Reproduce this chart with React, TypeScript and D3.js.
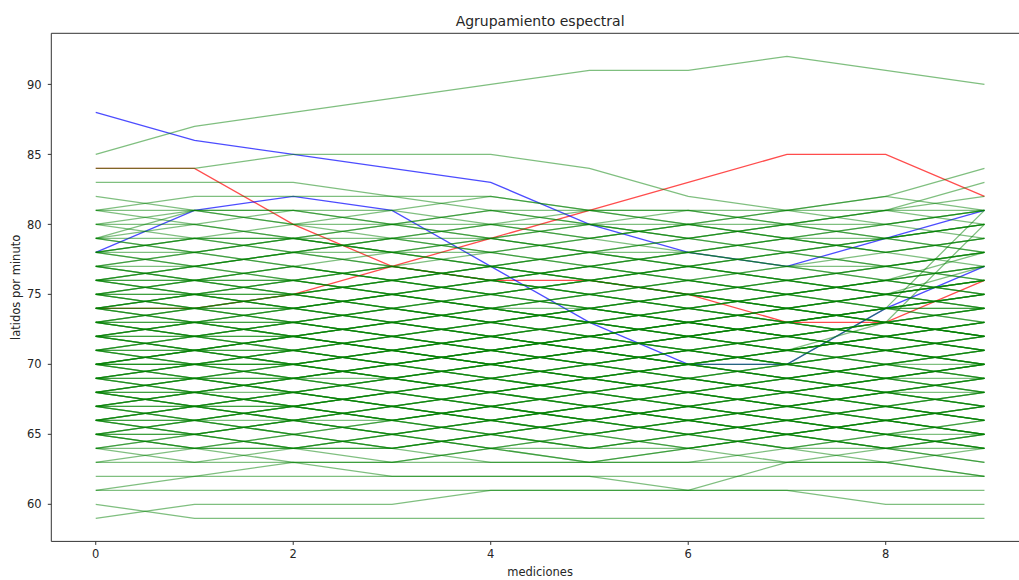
import React from "react";
import * as d3 from "d3";

// measurement index on x
const mediciones = [0, 1, 2, 3, 4, 5, 6, 7, 8, 9];

// cluster 0 (green), beats per minute per measurement
const grupoVerde = [
  [85, 87, 88, 89, 90, 91, 91, 92, 91, 90],
  [84, 84, 85, 85, 85, 84, 82, 81, 82, 84],
  [83, 83, 83, 82, 82, 81, 81, 81, 81, 83],
  [82, 81, 81, 80, 80, 80, 79, 80, 81, 82],
  [81, 82, 82, 82, 81, 81, 80, 80, 81, 81],
  [81, 80, 79, 79, 80, 81, 81, 80, 80, 79],
  [81, 81, 80, 81, 82, 81, 80, 79, 79, 80],
  [80, 79, 79, 78, 79, 80, 80, 81, 80, 81],
  [79, 81, 81, 80, 79, 78, 78, 79, 78, 79],
  [79, 79, 78, 79, 79, 78, 77, 78, 79, 78],
  [79, 78, 77, 76, 77, 78, 79, 78, 77, 78],
  [78, 79, 80, 80, 81, 80, 79, 80, 81, 80],
  [78, 77, 76, 77, 78, 77, 76, 77, 77, 76],
  [78, 78, 79, 78, 77, 76, 77, 76, 75, 77],
  [77, 78, 77, 76, 75, 76, 75, 74, 75, 76],
  [77, 76, 77, 78, 78, 79, 80, 79, 78, 79],
  [76, 77, 78, 77, 76, 77, 78, 77, 76, 75],
  [76, 75, 74, 75, 76, 75, 74, 75, 76, 77],
  [75, 76, 76, 75, 74, 73, 74, 75, 74, 75],
  [75, 74, 75, 76, 77, 76, 75, 76, 77, 78],
  [75, 75, 76, 77, 76, 75, 76, 75, 74, 73],
  [74, 75, 76, 75, 74, 74, 73, 74, 75, 74],
  [74, 73, 72, 73, 74, 75, 76, 75, 74, 74],
  [74, 74, 73, 74, 75, 76, 75, 74, 73, 72],
  [73, 74, 73, 72, 73, 74, 75, 76, 75, 76],
  [73, 72, 73, 74, 73, 72, 73, 72, 73, 74],
  [73, 73, 74, 73, 72, 71, 72, 73, 74, 73],
  [72, 73, 74, 75, 74, 73, 72, 73, 72, 71],
  [72, 71, 70, 71, 72, 73, 72, 71, 72, 73],
  [72, 72, 71, 72, 73, 72, 71, 70, 71, 72],
  [71, 72, 71, 70, 71, 72, 73, 72, 71, 70],
  [71, 70, 71, 72, 71, 70, 69, 70, 71, 72],
  [71, 71, 72, 71, 70, 71, 72, 73, 72, 71],
  [70, 71, 70, 69, 70, 69, 70, 71, 70, 69],
  [70, 69, 68, 69, 70, 71, 70, 69, 70, 71],
  [70, 70, 71, 72, 71, 70, 71, 72, 73, 72],
  [70, 71, 72, 71, 70, 69, 68, 69, 70, 70],
  [69, 70, 69, 68, 69, 70, 71, 70, 69, 68],
  [69, 68, 69, 70, 69, 68, 69, 68, 67, 68],
  [69, 69, 70, 69, 68, 67, 68, 69, 70, 69],
  [68, 69, 70, 71, 70, 69, 70, 71, 70, 71],
  [68, 67, 68, 67, 66, 67, 68, 67, 68, 67],
  [68, 68, 67, 68, 69, 68, 67, 66, 67, 68],
  [68, 69, 68, 69, 68, 69, 70, 69, 68, 67],
  [67, 68, 67, 66, 67, 68, 69, 70, 69, 70],
  [67, 66, 67, 68, 67, 66, 65, 66, 67, 66],
  [67, 67, 66, 67, 68, 67, 66, 67, 68, 69],
  [66, 67, 68, 67, 66, 65, 66, 67, 66, 65],
  [66, 65, 66, 65, 66, 67, 66, 65, 66, 67],
  [66, 66, 67, 68, 69, 68, 67, 68, 69, 68],
  [65, 66, 65, 66, 67, 66, 65, 64, 65, 66],
  [65, 65, 64, 65, 66, 65, 64, 65, 64, 65],
  [65, 64, 64, 64, 65, 66, 67, 66, 65, 64],
  [64, 65, 66, 65, 64, 65, 66, 65, 66, 65],
  [64, 64, 63, 63, 64, 63, 63, 64, 64, 63],
  [63, 64, 65, 64, 65, 64, 65, 66, 65, 64],
  [63, 63, 63, 63, 63, 63, 63, 63, 63, 62],
  [62, 62, 62, 62, 62, 62, 62, 62, 62, 62],
  [61, 62, 63, 62, 62, 62, 61, 63, 64, 65],
  [61, 61, 61, 61, 61, 61, 61, 61, 61, 61],
  [60, 59, 59, 59, 59, 59, 59, 59, 59, 59],
  [59, 60, 60, 60, 61, 61, 61, 61, 60, 60],
  [64, 63, 64, 64, 63, 63, 64, 65, 66, 65],
  [65, 64, 64, 63, 64, 64, 64, 63, 63, 62],
  [70, 71, 70, 69, 70, 71, 70, 70, 74, 81],
  [72, 71, 72, 73, 72, 71, 72, 71, 73, 80],
  [76, 76, 75, 74, 73, 74, 73, 72, 73, 74],
  [72, 73, 72, 71, 72, 73, 74, 73, 74, 75],
  [70, 70, 69, 70, 71, 70, 69, 68, 69, 70],
  [67, 68, 69, 68, 67, 66, 67, 68, 67, 66],
  [66, 67, 66, 67, 68, 69, 68, 67, 66, 65],
  [74, 75, 74, 73, 72, 73, 74, 75, 76, 77],
  [68, 67, 66, 65, 66, 67, 66, 65, 64, 64],
  [73, 74, 75, 74, 75, 76, 77, 78, 79, 80],
  [77, 77, 78, 79, 78, 77, 78, 79, 80, 81],
  [69, 70, 71, 70, 71, 72, 71, 70, 71, 72],
  [65, 66, 67, 66, 65, 66, 67, 68, 67, 66],
  [66, 65, 64, 65, 66, 65, 66, 65, 64, 65],
  [67, 66, 65, 66, 67, 68, 67, 66, 65, 66],
  [68, 69, 68, 67, 68, 67, 66, 67, 68, 69],
  [69, 68, 67, 68, 69, 70, 69, 68, 69, 70],
  [70, 71, 72, 73, 72, 71, 70, 71, 72, 71],
  [71, 70, 69, 70, 69, 70, 71, 70, 69, 70],
  [72, 71, 72, 71, 70, 71, 70, 71, 72, 73],
  [73, 72, 71, 72, 73, 74, 73, 72, 73, 72],
  [74, 73, 74, 75, 76, 75, 74, 73, 74, 75],
  [75, 76, 77, 76, 75, 74, 75, 76, 75, 76],
  [76, 77, 76, 75, 76, 77, 76, 75, 76, 78],
  [77, 76, 75, 76, 77, 78, 77, 76, 77, 76],
  [78, 77, 78, 77, 76, 77, 78, 79, 78, 77],
  [65, 65, 66, 66, 65, 64, 65, 66, 67, 66],
  [66, 66, 65, 64, 65, 66, 67, 66, 67, 68],
  [67, 67, 68, 69, 68, 67, 68, 69, 68, 67],
  [68, 68, 69, 70, 69, 70, 69, 68, 67, 66],
  [69, 69, 68, 67, 68, 69, 68, 67, 68, 69],
  [70, 70, 71, 70, 69, 68, 69, 70, 71, 70],
  [71, 71, 70, 71, 72, 71, 70, 69, 70, 71],
  [72, 72, 73, 72, 71, 72, 73, 74, 73, 72],
  [73, 73, 72, 73, 72, 73, 74, 73, 72, 73],
  [74, 74, 75, 74, 73, 72, 73, 74, 73, 74],
  [75, 75, 74, 73, 74, 75, 74, 73, 74, 75],
  [76, 76, 77, 76, 77, 76, 75, 74, 75, 74],
  [64, 65, 64, 65, 64, 63, 64, 65, 64, 63],
  [65, 64, 65, 64, 65, 66, 65, 66, 65, 64],
  [66, 67, 66, 65, 64, 65, 64, 65, 66, 65],
  [67, 68, 67, 68, 67, 66, 67, 66, 65, 64],
  [68, 67, 68, 69, 70, 69, 68, 67, 68, 67],
  [69, 70, 70, 71, 70, 71, 72, 71, 70, 69],
  [70, 69, 70, 71, 72, 71, 70, 69, 68, 69],
  [71, 72, 73, 72, 71, 70, 71, 72, 71, 70],
  [72, 73, 72, 73, 74, 73, 72, 71, 72, 71],
  [73, 72, 73, 72, 71, 72, 71, 72, 71, 70],
  [74, 75, 74, 75, 74, 73, 72, 71, 72, 73],
  [75, 74, 73, 74, 73, 74, 75, 74, 75, 76],
  [76, 75, 76, 77, 76, 75, 74, 75, 76, 75],
  [77, 78, 79, 78, 79, 78, 77, 78, 77, 78],
  [78, 79, 78, 79, 80, 79, 78, 77, 78, 79],
  [79, 80, 79, 78, 77, 78, 79, 80, 79, 80],
  [80, 81, 80, 79, 78, 79, 80, 79, 80, 81],
  [66, 65, 66, 67, 66, 67, 66, 67, 66, 67],
  [67, 66, 67, 66, 65, 64, 65, 64, 65, 65],
  [68, 69, 69, 68, 67, 68, 69, 68, 69, 70],
  [69, 68, 69, 69, 70, 69, 70, 69, 70, 71],
  [70, 71, 71, 70, 71, 72, 71, 72, 71, 72],
  [71, 70, 70, 69, 68, 69, 70, 71, 72, 73],
  [72, 73, 73, 74, 73, 74, 75, 74, 73, 74],
  [73, 74, 74, 73, 74, 73, 72, 73, 74, 75],
  [74, 73, 73, 72, 73, 72, 73, 74, 75, 76],
  [75, 76, 75, 74, 75, 74, 73, 72, 73, 72],
  [76, 77, 78, 78, 77, 76, 77, 76, 77, 78],
  [77, 76, 76, 75, 74, 75, 76, 77, 76, 77],
  [78, 79, 79, 80, 79, 80, 79, 78, 79, 78],
  [65, 66, 66, 67, 66, 65, 66, 65, 66, 67],
  [66, 67, 67, 66, 67, 66, 65, 64, 63, 64],
  [67, 68, 68, 67, 66, 67, 68, 69, 68, 68],
  [68, 67, 67, 66, 67, 68, 67, 68, 69, 69],
  [69, 70, 70, 69, 68, 69, 68, 67, 66, 67],
  [70, 69, 69, 70, 71, 72, 73, 72, 71, 70],
  [71, 72, 72, 71, 72, 71, 72, 73, 74, 74],
  [72, 71, 71, 70, 71, 70, 71, 70, 69, 68],
  [73, 72, 72, 71, 70, 71, 72, 73, 72, 71],
  [74, 75, 75, 76, 75, 74, 73, 74, 73, 72],
  [75, 74, 74, 75, 76, 77, 76, 75, 76, 75],
  [76, 75, 75, 76, 75, 76, 77, 76, 75, 74],
  [80, 80, 81, 81, 80, 79, 80, 81, 82, 81],
  [79, 78, 79, 80, 81, 80, 81, 80, 79, 80],
];

// cluster 1 (blue)
const grupoAzul = [
  [88, 86, 85, 84, 83, 80, 78, 77, 79, 81],
  [78, 81, 82, 81, 77, 73, 70, 70, 74, 77],
];

// cluster 2 (red)
const grupoRojo = [
  [84, 84, 80, 77, 76, 76, 75, 73, 73, 76],
  [74, 74, 75, 77, 79, 81, 83, 85, 85, 82],
];

const yTicks = [60, 65, 70, 75, 80, 85, 90];
const xTicks = [0, 2, 4, 6, 8];

const W = 1019;
const H = 580;
const left = 51.3;
const right = 1028.9;
const top = 33.3;
const bottom = 541.4;

const font = "DejaVu Sans, sans-serif";

export default function App() {
  const todos = [...grupoVerde, ...grupoAzul, ...grupoRojo].flat();
  const [ymin, ymax] = d3.extent(todos) as [number, number];
  const xPad = (d3.max(mediciones)! - d3.min(mediciones)!) * 0.05;
  const yPad = (ymax - ymin) * 0.05;

  const x = d3
    .scaleLinear()
    .domain([d3.min(mediciones)! - xPad, d3.max(mediciones)! + xPad])
    .range([left, right]);
  const y = d3
    .scaleLinear()
    .domain([ymin - yPad, ymax + yPad])
    .range([bottom, top]);

  const line = d3
    .line<number>()
    .x((_, i) => x(mediciones[i]))
    .y((d) => y(d));

  // red and blue drawn first, green over them (olive where they overlap)
  const series = [
    ...grupoRojo.map((s) => ({ s, color: "red", op: 0.7 })),
    ...grupoAzul.map((s) => ({ s, color: "blue", op: 0.7 })),
    ...grupoVerde.map((s) => ({ s, color: "green", op: 0.5 })),
  ];

  return (
    <div style={{ position: "absolute", left: 0, top: 0 }}>
      <svg width={W} height={H} style={{ display: "block", background: "#fff" }}>
        <g>
          {series.map((d, i) => (
            <path
              key={i}
              d={line(d.s) || ""}
              fill="none"
              stroke={d.color}
              strokeOpacity={d.op}
              strokeWidth={1.3}
            />
          ))}
        </g>

        {/* spines */}
        <g stroke="#333" strokeWidth={1} fill="none">
          <line x1={left} x2={right} y1={top} y2={top} />
          <line x1={left} x2={right} y1={bottom} y2={bottom} />
          <line x1={left} x2={left} y1={top} y2={bottom} />
          <line x1={right} x2={right} y1={top} y2={bottom} />
        </g>

        {/* x axis */}
        <g fontFamily={font} fontSize={11.5} fill="#262626">
          {xTicks.map((t) => (
            <g key={t} transform={`translate(${x(t)},0)`}>
              <line y1={bottom} y2={bottom + 3.5} stroke="#333" />
              <text y={558.3} textAnchor="middle">
                {t}
              </text>
            </g>
          ))}
          <text x={(left + right) / 2} y={576} textAnchor="middle">
            mediciones
          </text>
        </g>

        {/* y axis */}
        <g fontFamily={font} fontSize={11.5} fill="#262626">
          {yTicks.map((t) => (
            <g key={t} transform={`translate(0,${y(t)})`}>
              <line x1={left - 3.5} x2={left} stroke="#333" />
              <text x={41.7} dy="0.36em" textAnchor="end">
                {t}
              </text>
            </g>
          ))}
          <text
            transform={`translate(20,${(top + bottom) / 2}) rotate(-90)`}
            textAnchor="middle"
          >
            latidos por minuto
          </text>
        </g>

        <text
          x={(left + right) / 2}
          y={25.5}
          textAnchor="middle"
          fontFamily={font}
          fontSize={14}
          fill="#262626"
        >
          Agrupamiento espectral
        </text>
      </svg>
    </div>
  );
}
